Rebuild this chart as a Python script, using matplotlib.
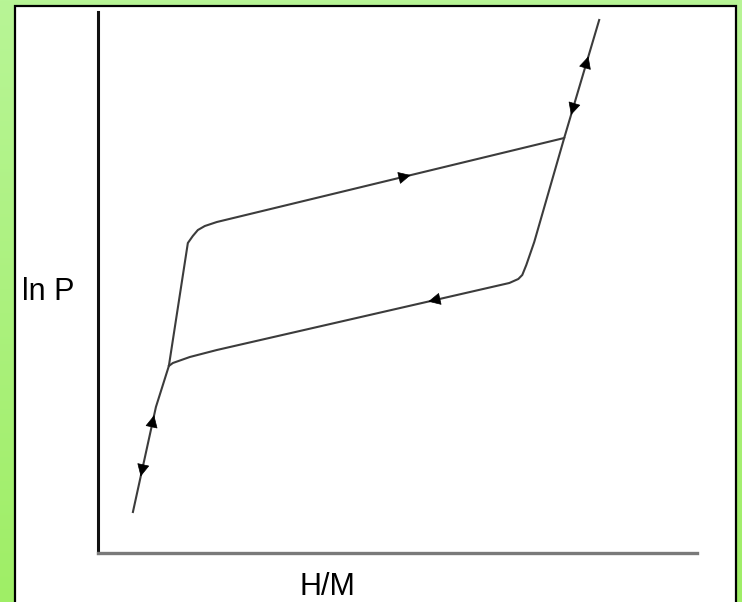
import matplotlib.pyplot as plt
import numpy as np
from matplotlib import font_manager
from matplotlib.patches import Rectangle
from matplotlib.colors import LinearSegmentedColormap

# hysteresis loop, arbitrary units (x: H/M, y: ln P)
up_x = [0.583, 0.967, 1.183, 1.50, 1.583, 1.667, 1.783, 1.983, 7.783, 8.367]
up_y = [0.758, 2.699, 3.457, 5.730, 5.860, 5.970, 6.044, 6.118, 7.671, 9.852]
down_x = [1.183, 1.250, 1.533, 1.983, 6.867, 7.017, 7.083, 7.150, 7.283, 7.783]
down_y = [3.457, 3.512, 3.623, 3.752, 4.991, 5.065, 5.139, 5.323, 5.749, 7.671]

# arrow heads: x position, which branch, direction (+1 towards larger x)
arrow_x = [0.917, 0.733, 5.20, 8.167, 7.917, 5.533]
arrow_branch = ['up', 'up', 'up', 'up', 'up', 'down']
arrow_dir = [1, -1, 1, 1, -1, -1]

x_label = 'H/M'
y_label = 'ln P'

try:
    font_manager.findfont('Liberation Sans Narrow', fallback_to_default=False)
    label_font = 'Liberation Sans Narrow'
    label_size = 26
except ValueError:
    label_font = 'Liberation Sans'
    label_size = 22

W, H = 742, 602
fig = plt.figure(figsize=(W / 100, H / 100), dpi=100)

# green gradient background
bg = fig.add_axes([0, 0, 1, 1], zorder=0)
grad = np.linspace(0, 1, 256).reshape(-1, 1)
cmap = LinearSegmentedColormap.from_list('g', ['#b8f596', '#9fee66'])
bg.imshow(grad, aspect='auto', cmap=cmap, extent=[0, 1, 0, 1], origin='upper')
bg.set_xlim(0, 1)
bg.set_ylim(0, 1)
bg.axis('off')

# white panel with black frame
fig.patches.append(Rectangle((15 / W, -0.05), (736 - 15) / W, 1.05 - 5.5 / H,
                             transform=fig.transFigure, facecolor='white',
                             edgecolor='black', lw=1.6, zorder=1))

ax = fig.add_axes([98 / W, 1 - 553 / H, (697 - 98) / W, (553 - 12) / H], zorder=2)
ax.patch.set_alpha(0)
ax.set_xlim(0, 10)
ax.set_ylim(0, 10)
for s in ['top', 'right']:
    ax.spines[s].set_visible(False)
ax.spines['left'].set_linewidth(2.2)
ax.spines['left'].set_color('#111111')
ax.spines['bottom'].set_linewidth(2.4)
ax.spines['bottom'].set_color('#7a7a7a')
ax.set_xticks([])
ax.set_yticks([])

line_c = '#3c3c3c'
ax.plot(up_x, up_y, color=line_c, lw=1.5, solid_joinstyle='round')
ax.plot(down_x, down_y, color=line_c, lw=1.5, solid_joinstyle='round')

for xa, br, d in zip(arrow_x, arrow_branch, arrow_dir):
    bx, by = (up_x, up_y) if br == 'up' else (down_x, down_y)
    eps = 0.02
    x0, x1 = xa - d * eps, xa + d * eps
    ax.annotate('', xy=(x1, np.interp(x1, bx, by)), xytext=(x0, np.interp(x0, bx, by)),
                arrowprops=dict(arrowstyle='-|>', color='black', lw=0.5,
                                mutation_scale=20, shrinkA=0, shrinkB=0))

fig.text(22 / W, 1 - 300 / H, y_label, family=label_font, fontsize=label_size,
         ha='left', va='baseline', zorder=3)
fig.text(327 / W, 1 - 595 / H, x_label, family=label_font, fontsize=label_size,
         ha='center', va='baseline', zorder=3)

fig.savefig('out.png', dpi=100)
